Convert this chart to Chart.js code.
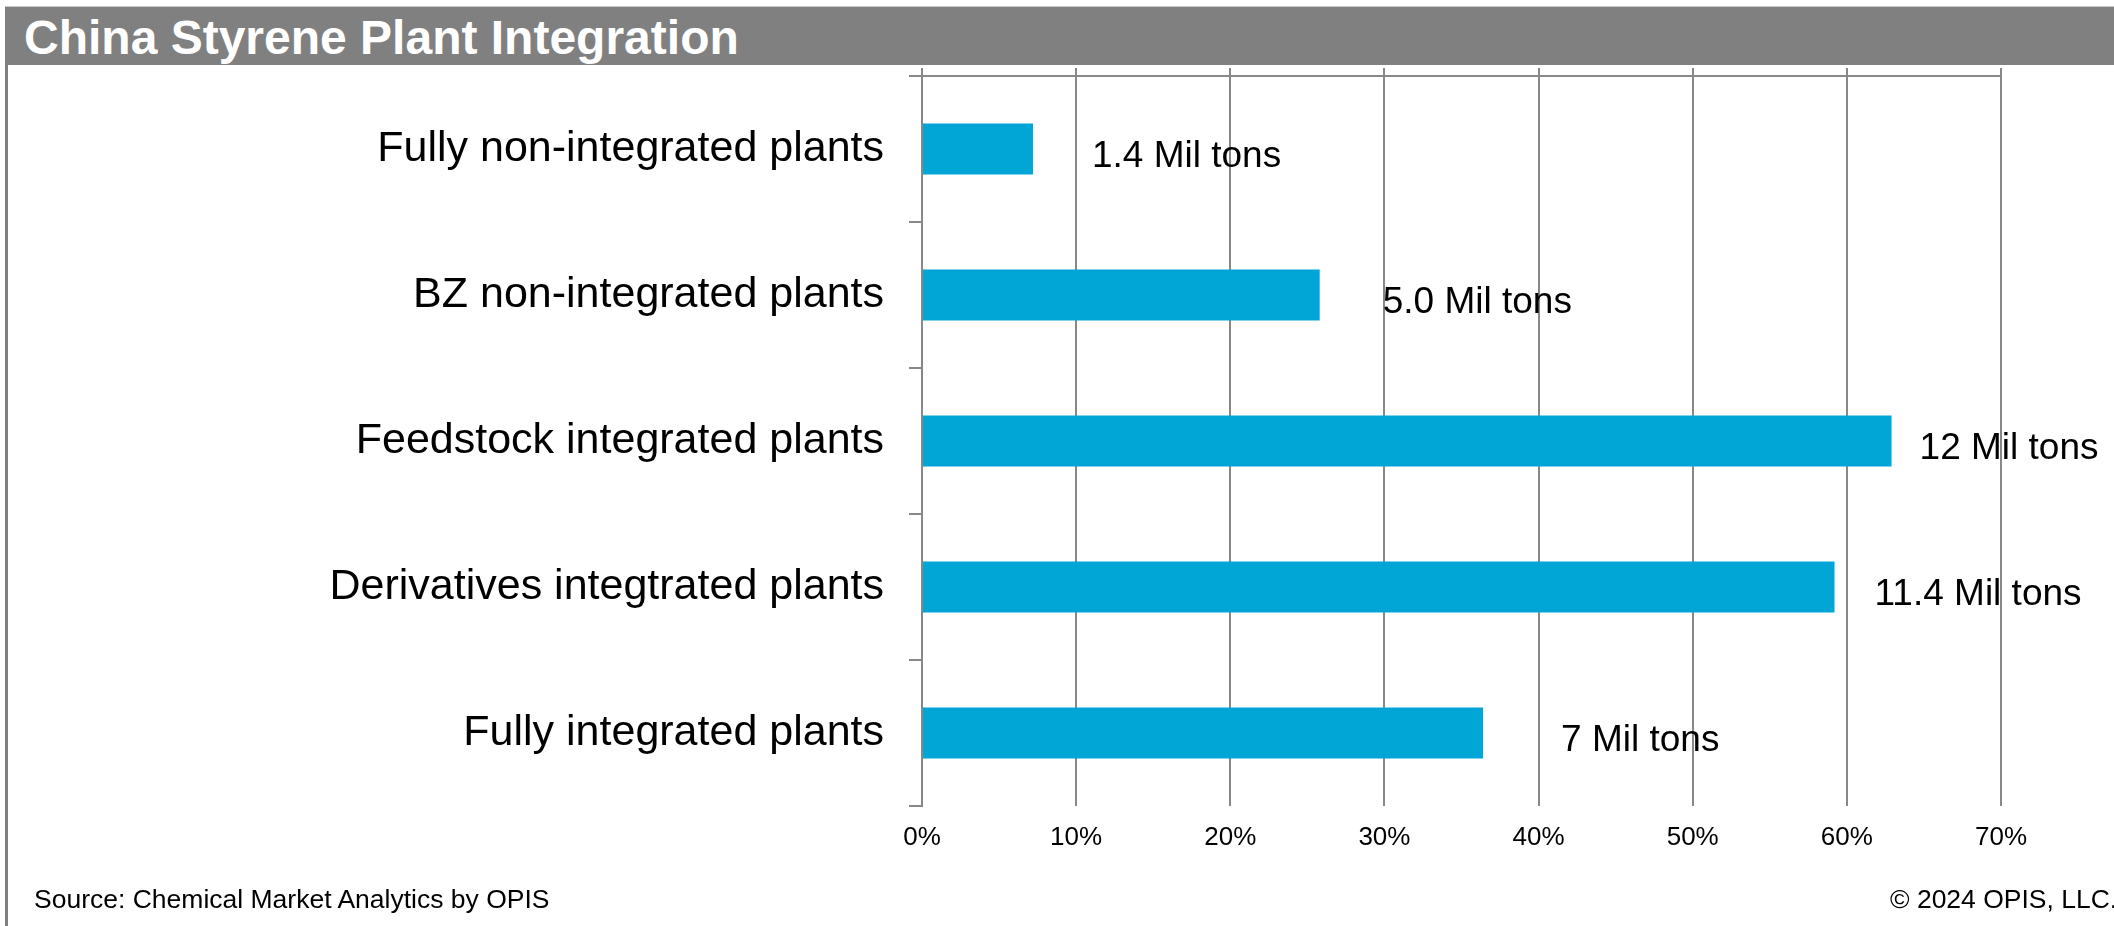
<!DOCTYPE html>
<html>
<head>
<meta charset="utf-8">
<script src="https://cdn.jsdelivr.net/npm/chart.js@4.4.1/dist/chart.umd.min.js"></script>
<style>
  body { margin: 0; width: 2114px; height: 926px; overflow: hidden; background: #fff; position: relative; font-family: "Liberation Sans", Arial, sans-serif; }
  #bar { position: absolute; left: 5px; right: 0; top: 6px; height: 58px; background: #808080; border-top: 1px solid #c8c8c8; }
  #title { position: absolute; left: 24px; top: 6px; height: 58px; line-height: 64px; color: #fff; font-weight: bold; font-size: 48px; white-space: nowrap; }
  #frame { position: absolute; left: 5px; width: 3px; top: 65px; bottom: 0; background: #808080; }
  .foot { position: absolute; top: 884px; line-height: 30px; font-size: 26.5px; color: #000; white-space: nowrap; }
  #chart { position: absolute; left: 0; top: 0; }
</style>
</head>
<body>
<div id="bar"></div>
<div id="title">China Styrene Plant Integration</div>
<div id="frame"></div>
<canvas id="chart" width="2114" height="926"></canvas>
<div class="foot" style="left:34px">Source: Chemical Market Analytics by OPIS</div>
<div class="foot" style="left:1890px">© 2024 OPIS, LLC.</div>
<script>
const categories = [
  'Fully non-integrated plants',
  'BZ non-integrated plants',
  'Feedstock integrated plants',
  'Derivatives integtrated plants',
  'Fully integrated plants'
];
const shares = [7.2, 25.8, 62.9, 59.2, 36.4];
const tonLabels = ['1.4 Mil tons', '5.0 Mil tons', '12 Mil tons', '11.4 Mil tons', '7 Mil tons'];
const axisMax = 70;
const axisStep = 10;

const gridGrey = '#888888';

// text next to each bar, nudged like in the original slide
const tonLabelPlugin = {
  id: 'tonLabels',
  afterDatasetsDraw(chart, args, opts) {
    const ctx = chart.ctx;
    const meta = chart.getDatasetMeta(0);
    ctx.save();
    ctx.font = '37px "Liberation Sans", Arial, sans-serif';
    ctx.fillStyle = '#000';
    ctx.textAlign = 'left';
    ctx.textBaseline = 'middle';
    meta.data.forEach((bar, i) => {
      ctx.fillText(tonLabels[i], bar.x + opts.dx[i], bar.y + 8);
    });
    ctx.restore();
  }
};

new Chart(document.getElementById('chart'), {
  type: 'bar',
  data: {
    labels: categories,
    datasets: [{
      data: shares,
      backgroundColor: '#02A6D6',
      borderWidth: 0,
      categoryPercentage: 1,
      barPercentage: 0.35
    }]
  },
  plugins: [tonLabelPlugin],
  options: {
    indexAxis: 'y',
    responsive: false,
    animation: false,
    devicePixelRatio: 1,
    layout: { padding: { left: 0, top: 68, right: 113, bottom: 60 } },
    plugins: {
      legend: { display: false },
      tooltip: { enabled: false },
      tonLabels: { dx: [59, 63, 28, 40, 78] }
    },
    scales: {
      x: {
        type: 'linear',
        position: 'bottom',
        min: 0,
        max: axisMax,
        ticks: {
          stepSize: axisStep,
          callback: v => v + '%',
          font: { family: '"Liberation Sans", Arial, sans-serif', size: 26 },
          color: '#000',
          padding: 16,
          maxRotation: 0
        },
        grid: { color: gridGrey, lineWidth: 2, drawTicks: false },
        border: { display: false },
        afterFit: s => { s.height = 60; }
      },
      x2: {
        type: 'linear',
        position: 'top',
        min: 0,
        max: axisMax,
        ticks: { display: false, stepSize: axisStep },
        grid: { drawOnChartArea: false, drawTicks: true, tickLength: 8, color: gridGrey, lineWidth: 2 },
        border: { display: true, color: gridGrey, width: 2 }
      },
      y: {
        type: 'category',
        position: 'left',
        grid: { offset: true, drawOnChartArea: false, drawTicks: true, tickLength: 13, color: gridGrey, lineWidth: 2 },
        border: { display: true, color: gridGrey, width: 2 },
        ticks: {
          font: { family: '"Liberation Sans", Arial, sans-serif', size: 43 },
          color: '#000',
          padding: 25
        },
        afterFit: s => { s.width = 922; }
      }
    }
  }
});
</script>
</body>
</html>
